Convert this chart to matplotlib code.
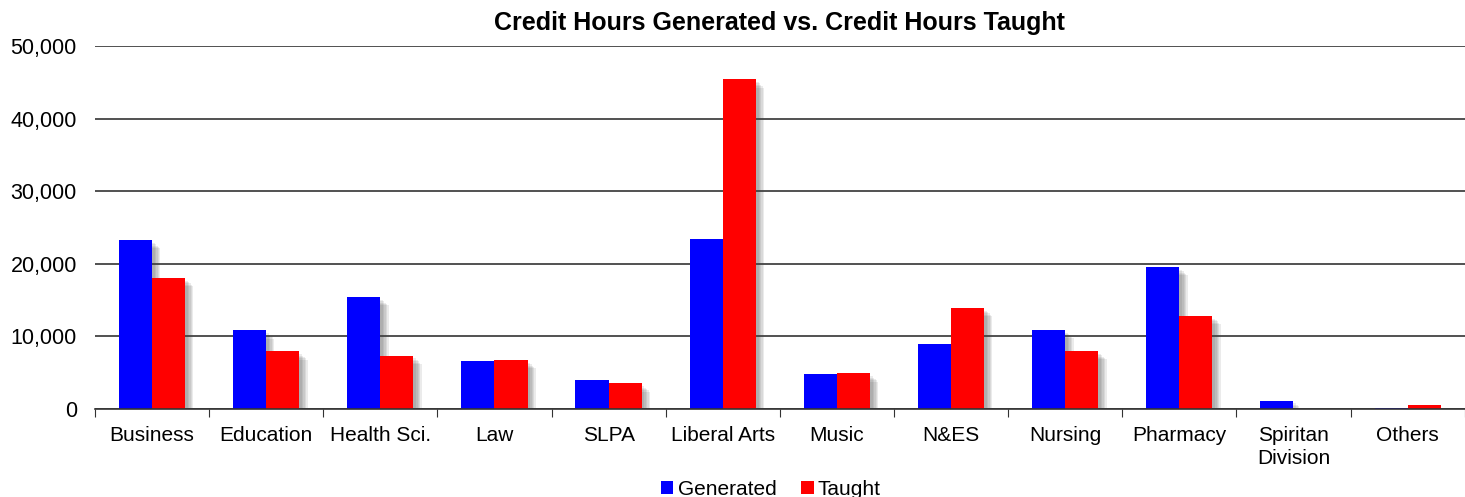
import numpy as np
import matplotlib.pyplot as plt
from matplotlib import patheffects as pe
from matplotlib.ticker import FuncFormatter, FixedLocator

plt.rcParams['font.family'] = ['Liberation Sans', 'DejaVu Sans']

categories = ['Business', 'Education', 'Health Sci.', 'Law', 'SLPA', 'Liberal Arts',
              'Music', 'N&ES', 'Nursing', 'Pharmacy', 'Spiritan\nDivision', 'Others']
generated = [23280, 10840, 15430, 6650, 3950, 23460, 4850, 9000, 10900, 19580, 1150, 100]
taught = [18090, 7950, 7350, 6750, 3540, 45450, 4900, 13950, 8000, 12850, 0, 510]

fig = plt.figure(figsize=(14.65, 4.97), dpi=100)
ax = fig.add_axes([0.0648, 0.177, 0.935, 0.730])

x = np.arange(len(categories))
w = 0.29
b1 = ax.bar(x - w / 2, generated, w, color='#0000ff', label='Generated', zorder=3)
b2 = ax.bar(x + w / 2, taught, w, color='#ff0000', label='Taught', zorder=3)

ax.set_xlim(-0.5, len(categories) - 0.5)
ax.set_ylim(0, 50000)
ax.set_yticks(np.arange(0, 50001, 10000))
ax.yaxis.set_major_formatter(FuncFormatter(lambda v, p: f'{int(v):,}'))
ax.grid(axis='y', color='#333333', linewidth=1.2, zorder=0)
ax.tick_params(axis='y', length=0, labelsize=15.5, pad=13)

ax.xaxis.set_major_locator(FixedLocator(np.arange(-0.5, len(categories), 1)))
ax.xaxis.set_major_formatter(FuncFormatter(lambda v, p: ''))
ax.set_xticks(x, minor=True)
ax.set_xticklabels(categories, minor=True, fontsize=15, linespacing=1.3)
ax.tick_params(axis='x', which='major', length=6, color='#333333')
ax.tick_params(axis='x', which='minor', length=0, pad=12)

for s in ['left', 'right', 'top']:
    ax.spines[s].set_visible(False)
ax.spines['bottom'].set_color('#333333')
ax.spines['bottom'].set_linewidth(1.2)
ax.spines['bottom'].set_zorder(4)

ax.set_title('Credit Hours Generated vs. Credit Hours Taught', fontsize=18,
             fontweight='bold', pad=12)

ax.legend(loc='lower center', bbox_to_anchor=(0.4935, -0.27), ncol=2, frameon=False,
          fontsize=15, handlelength=0.6, handleheight=0.6, handletextpad=0.2,
          columnspacing=1.2, borderaxespad=0)

# soft drop shadow on bars (added after legend so the legend keys stay flat)
shadow = [pe.SimplePatchShadow(offset=(d, -d), shadow_rgbFace='#444444', alpha=0.1)
          for d in (6, 5, 4, 3, 2)] + [pe.Normal()]
for bar in list(b1) + list(b2):
    bar.set_path_effects(shadow)

fig.savefig('out.png', dpi=100)
